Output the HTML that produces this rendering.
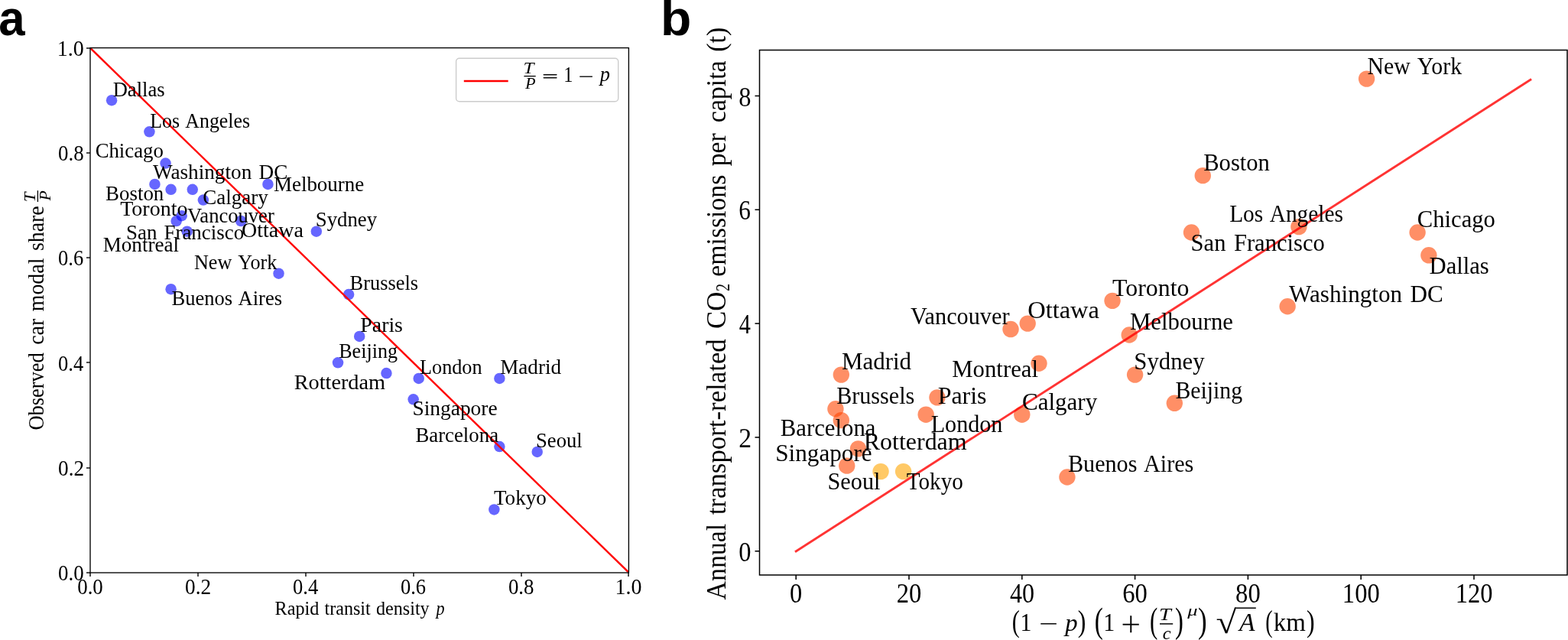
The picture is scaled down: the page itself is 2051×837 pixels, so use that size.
<!DOCTYPE html>
<html lang="en"><head><meta charset="utf-8"><title>Figure</title>
<style>html,body{margin:0;padding:0;background:#fff;overflow:hidden}svg{display:block}text{white-space:pre}</style>
</head><body>
<svg width="2051" height="837" viewBox="0 0 2051 837">
<rect width="2051" height="837" fill="#fff"/>
<defs><clipPath id="ca"><rect x="117.90" y="62.55" width="704.60" height="686.25"/></clipPath><clipPath id="cb"><rect x="993.60" y="65.50" width="1056.60" height="686.40"/></clipPath></defs>
<g id="panel-a">
<g fill="#00f" fill-opacity="0.6">
<circle cx="146.08" cy="131.17" r="7.25"/>
<circle cx="195.41" cy="172.35" r="7.25"/>
<circle cx="216.54" cy="213.52" r="7.25"/>
<circle cx="202.45" cy="240.97" r="7.25"/>
<circle cx="223.59" cy="247.84" r="7.25"/>
<circle cx="251.77" cy="247.84" r="7.25"/>
<circle cx="265.87" cy="261.56" r="7.25"/>
<circle cx="350.42" cy="240.97" r="7.25"/>
<circle cx="237.68" cy="282.15" r="7.25"/>
<circle cx="230.64" cy="289.01" r="7.25"/>
<circle cx="315.19" cy="289.01" r="7.25"/>
<circle cx="244.73" cy="302.74" r="7.25"/>
<circle cx="413.83" cy="302.74" r="7.25"/>
<circle cx="364.51" cy="357.64" r="7.25"/>
<circle cx="223.59" cy="378.22" r="7.25"/>
<circle cx="456.11" cy="385.09" r="7.25"/>
<circle cx="470.20" cy="439.99" r="7.25"/>
<circle cx="442.02" cy="474.30" r="7.25"/>
<circle cx="505.43" cy="488.02" r="7.25"/>
<circle cx="547.71" cy="494.89" r="7.25"/>
<circle cx="653.40" cy="494.89" r="7.25"/>
<circle cx="540.66" cy="522.34" r="7.25"/>
<circle cx="653.40" cy="584.10" r="7.25"/>
<circle cx="702.72" cy="590.96" r="7.25"/>
<circle cx="646.35" cy="666.45" r="7.25"/>
</g>
<line x1="117.90" y1="62.55" x2="822.50" y2="748.80" stroke="#f00" stroke-width="2.4" clip-path="url(#ca)"/>
<g stroke="#000" stroke-width="1.4">
<line x1="118.00" y1="749.00" x2="118.00" y2="754.00"/>
<line x1="113.00" y1="749.00" x2="118.00" y2="749.00"/>
<line x1="259.00" y1="749.00" x2="259.00" y2="754.00"/>
<line x1="113.00" y1="612.00" x2="118.00" y2="612.00"/>
<line x1="400.00" y1="749.00" x2="400.00" y2="754.00"/>
<line x1="113.00" y1="474.00" x2="118.00" y2="474.00"/>
<line x1="541.00" y1="749.00" x2="541.00" y2="754.00"/>
<line x1="113.00" y1="337.00" x2="118.00" y2="337.00"/>
<line x1="682.00" y1="749.00" x2="682.00" y2="754.00"/>
<line x1="113.00" y1="200.00" x2="118.00" y2="200.00"/>
<line x1="822.00" y1="749.00" x2="822.00" y2="754.00"/>
<line x1="113.00" y1="63.00" x2="118.00" y2="63.00"/>
</g>
<rect x="118.00" y="62.60" width="704.40" height="686.40" fill="none" stroke="#000" stroke-width="1.35"/>
<rect x="596.6" y="76.2" width="212.1" height="56.6" rx="4.2" fill="#fff" fill-opacity="0.8" stroke="#ccc" stroke-width="1.4"/>
<line x1="606.8" y1="106" x2="664.7" y2="106" stroke="#f00" stroke-width="2.4"/>
<line x1="685.4" y1="99.6" x2="700.7" y2="99.6" stroke="#000" stroke-width="1.3"/>
<line x1="49.4" y1="264.0" x2="49.4" y2="249.2" stroke="#000" stroke-width="1.3"/>
</g>
<g id="panel-b">
<circle cx="1787.59" cy="103.11" r="10.7" fill="#ff4500" fill-opacity="0.6"/>
<circle cx="1573.28" cy="229.63" r="10.7" fill="#ff4500" fill-opacity="0.6"/>
<circle cx="1698.91" cy="296.61" r="10.7" fill="#ff4500" fill-opacity="0.6"/>
<circle cx="1558.50" cy="304.05" r="10.7" fill="#ff4500" fill-opacity="0.6"/>
<circle cx="1854.10" cy="304.05" r="10.7" fill="#ff4500" fill-opacity="0.6"/>
<circle cx="1868.88" cy="333.82" r="10.7" fill="#ff4500" fill-opacity="0.6"/>
<circle cx="1684.13" cy="400.79" r="10.7" fill="#ff4500" fill-opacity="0.6"/>
<circle cx="1455.04" cy="393.35" r="10.7" fill="#ff4500" fill-opacity="0.6"/>
<circle cx="1344.19" cy="423.12" r="10.7" fill="#ff4500" fill-opacity="0.6"/>
<circle cx="1322.02" cy="430.56" r="10.7" fill="#ff4500" fill-opacity="0.6"/>
<circle cx="1477.21" cy="438.00" r="10.7" fill="#ff4500" fill-opacity="0.6"/>
<circle cx="1358.97" cy="475.21" r="10.7" fill="#ff4500" fill-opacity="0.6"/>
<circle cx="1484.60" cy="490.10" r="10.7" fill="#ff4500" fill-opacity="0.6"/>
<circle cx="1100.32" cy="490.10" r="10.7" fill="#ff4500" fill-opacity="0.6"/>
<circle cx="1225.95" cy="519.87" r="10.7" fill="#ff4500" fill-opacity="0.6"/>
<circle cx="1536.33" cy="527.31" r="10.7" fill="#ff4500" fill-opacity="0.6"/>
<circle cx="1092.93" cy="534.75" r="10.7" fill="#ff4500" fill-opacity="0.6"/>
<circle cx="1211.17" cy="542.19" r="10.7" fill="#ff4500" fill-opacity="0.6"/>
<circle cx="1336.80" cy="542.19" r="10.7" fill="#ff4500" fill-opacity="0.6"/>
<circle cx="1100.32" cy="549.63" r="10.7" fill="#ff4500" fill-opacity="0.6"/>
<circle cx="1122.49" cy="586.84" r="10.7" fill="#ff4500" fill-opacity="0.6"/>
<circle cx="1107.71" cy="609.17" r="10.7" fill="#ff4500" fill-opacity="0.6"/>
<circle cx="1152.05" cy="616.61" r="10.7" fill="#ffa500" fill-opacity="0.6"/>
<circle cx="1181.61" cy="616.61" r="10.7" fill="#ffa500" fill-opacity="0.6"/>
<circle cx="1395.92" cy="624.05" r="10.7" fill="#ff4500" fill-opacity="0.6"/>
<line x1="1041.20" y1="721.00" x2="2001.90" y2="104.28" stroke="#f00" stroke-opacity="0.8" stroke-width="2.9" stroke-linecap="square"/>
<g stroke="#000" stroke-width="1.55">
<line x1="1041.20" y1="752.00" x2="1041.20" y2="758.00"/>
<line x1="1189.00" y1="752.00" x2="1189.00" y2="758.00"/>
<line x1="1336.80" y1="752.00" x2="1336.80" y2="758.00"/>
<line x1="1484.60" y1="752.00" x2="1484.60" y2="758.00"/>
<line x1="1632.40" y1="752.00" x2="1632.40" y2="758.00"/>
<line x1="1780.20" y1="752.00" x2="1780.20" y2="758.00"/>
<line x1="1928.00" y1="752.00" x2="1928.00" y2="758.00"/>
<line x1="987.50" y1="720.80" x2="993.50" y2="720.80"/>
<line x1="987.50" y1="571.96" x2="993.50" y2="571.96"/>
<line x1="987.50" y1="423.12" x2="993.50" y2="423.12"/>
<line x1="987.50" y1="274.28" x2="993.50" y2="274.28"/>
<line x1="987.50" y1="125.44" x2="993.50" y2="125.44"/>
</g>
<rect x="993.50" y="65.50" width="1056.50" height="686.50" fill="none" stroke="#000" stroke-width="1.5"/>
<line x1="1517.0" y1="815.9" x2="1534.2" y2="815.9" stroke="#000" stroke-width="1.5"/>
<line x1="1617.0" y1="795.2" x2="1642.8" y2="795.2" stroke="#000" stroke-width="1.5"/>
</g>
<g id="text" fill="#000">
<g font-family="'Liberation Serif', serif" font-size="28.1">
<text transform="translate(147.68 125.80) scale(0.9460 1.0000)">Dallas</text>
<text transform="translate(196.20 166.70) scale(0.9199 1.0000)" word-spacing="2.53">Los Angeles</text>
<text transform="translate(124.66 206.00) scale(0.9523 1.0000)">Chicago</text>
<text transform="translate(199.90 234.10) scale(0.9688 1.0000)" word-spacing="2.53">Washington DC</text>
<text transform="translate(357.98 249.70) scale(0.9596 1.0000)">Melbourne</text>
<text transform="translate(138.08 262.20) scale(0.9571 1.0000)">Boston</text>
<text transform="translate(265.36 267.30) scale(0.9617 1.0000)">Calgary</text>
<text transform="translate(157.16 282.10) scale(0.9971 1.0000)">Toronto</text>
<text transform="translate(245.10 291.20) scale(0.9465 1.0000)">Vancouver</text>
<text transform="translate(412.72 296.10) scale(0.9546 1.0000)">Sydney</text>
<text transform="translate(165.02 312.70) scale(0.9576 1.0000)" word-spacing="2.53">San Francisco</text>
<text transform="translate(315.92 309.80) scale(0.9977 1.0000)">Ottawa</text>
<text transform="translate(134.68 328.90) scale(0.9656 1.0000)">Montreal</text>
<text transform="translate(253.99 351.60) scale(0.9307 1.0000)" word-spacing="2.53">New York</text>
<text transform="translate(224.49 399.40) scale(0.9437 1.0000)" word-spacing="2.53">Buenos Aires</text>
<text transform="translate(457.59 378.90) scale(0.9387 1.0000)">Brussels</text>
<text transform="translate(471.37 433.90) scale(0.9886 1.0000)">Paris</text>
<text transform="translate(443.19 468.10) scale(0.9284 1.0000)">Beijing</text>
<text transform="translate(549.09 488.60) scale(0.9324 1.0000)">London</text>
<text transform="translate(654.18 488.60) scale(0.9650 1.0000)">Madrid</text>
<text transform="translate(384.66 509.40) scale(1.0074 1.0000)">Rotterdam</text>
<text transform="translate(539.38 543.20) scale(0.9770 1.0000)">Singapore</text>
<text transform="translate(543.38 578.30) scale(0.9543 1.0000)">Barcelona</text>
<text transform="translate(701.04 585.00) scale(0.9466 1.0000)">Seoul</text>
<text transform="translate(645.98 660.20) scale(0.9631 1.0000)">Tokyo</text>
</g>
<g font-family="'Liberation Serif', serif" font-size="31.1">
<text transform="translate(1788.43 96.70) scale(0.9598 1.0000)" word-spacing="2.8">New York</text>
<text transform="translate(1574.22 223.20) scale(0.9834 1.0000)">Boston</text>
<text transform="translate(1608.14 289.90) scale(0.9460 1.0000)" word-spacing="2.8">Los Angeles</text>
<text transform="translate(1557.59 328.00) scale(0.9845 1.0000)" word-spacing="2.8">San Francisco</text>
<text transform="translate(1853.84 297.40) scale(0.9843 1.0000)">Chicago</text>
<text transform="translate(1869.52 357.80) scale(0.9854 1.0000)">Dallas</text>
<text transform="translate(1686.10 394.50) scale(1.0011 1.0000)" word-spacing="2.8">Washington DC</text>
<text transform="translate(1455.00 386.70) scale(1.0252 1.0000)">Toronto</text>
<text transform="translate(1344.18 416.40) scale(1.0447 1.0000)">Ottawa</text>
<text transform="translate(1191.10 423.80) scale(0.9734 1.0000)">Vancouver</text>
<text transform="translate(1477.92 431.20) scale(0.9897 1.0000)">Melbourne</text>
<text transform="translate(1245.22 492.90) scale(0.9900 1.0000)">Montreal</text>
<text transform="translate(1483.28 482.90) scale(0.9895 1.0000)">Sydney</text>
<text transform="translate(1100.92 483.40) scale(0.9960 1.0000)">Madrid</text>
<text transform="translate(1226.70 527.70) scale(1.0265 1.0000)">Paris</text>
<text transform="translate(1537.43 520.50) scale(0.9581 1.0000)">Beijing</text>
<text transform="translate(1094.13 527.70) scale(0.9693 1.0000)">Brussels</text>
<text transform="translate(1217.63 564.70) scale(0.9703 1.0000)">London</text>
<text transform="translate(1337.03 535.70) scale(0.9972 1.0000)">Calgary</text>
<text transform="translate(1020.72 570.40) scale(0.9899 1.0000)">Barcelona</text>
<text transform="translate(1129.80 587.70) scale(1.0275 1.0000)">Rotterdam</text>
<text transform="translate(1014.25 603.30) scale(1.0026 1.0000)">Singapore</text>
<text transform="translate(1082.51 640.40) scale(0.9735 1.0000)">Seoul</text>
<text transform="translate(1185.74 640.40) scale(0.9385 1.0000)">Tokyo</text>
<text transform="translate(1396.93 617.30) scale(0.9704 1.0000)" word-spacing="2.8">Buenos Aires</text>
</g>
<g font-family="'Liberation Serif', serif" font-size="28.8">
<text transform="translate(101.21 777.20) scale(0.9327 1.0000)">0.0</text>
<text transform="translate(76.06 759.10) scale(0.9327 1.0000)">0.0</text>
<text transform="translate(242.12 777.20) scale(0.9452 1.0000)">0.2</text>
<text transform="translate(76.05 621.85) scale(0.9452 1.0000)">0.2</text>
<text transform="translate(383.06 777.20) scale(0.9206 1.0000)">0.4</text>
<text transform="translate(76.07 484.60) scale(0.9206 1.0000)">0.4</text>
<text transform="translate(523.98 777.20) scale(0.9206 1.0000)">0.6</text>
<text transform="translate(76.07 347.35) scale(0.9206 1.0000)">0.6</text>
<text transform="translate(664.89 777.20) scale(0.9327 1.0000)">0.8</text>
<text transform="translate(76.06 210.10) scale(0.9327 1.0000)">0.8</text>
<text transform="translate(804.47 777.20) scale(0.9711 1.0000)">1.0</text>
<text transform="translate(74.72 72.85) scale(0.9711 1.0000)">1.0</text>
</g>
<g font-family="'Liberation Serif', serif" font-size="35.2">
<text transform="translate(1033.09 787.90) scale(0.9221 1.0000)">0</text>
<text transform="translate(1172.68 787.90) scale(0.9273 1.0000)">20</text>
<text transform="translate(1321.00 787.90) scale(0.9121 1.0000)">40</text>
<text transform="translate(1468.28 787.90) scale(0.9273 1.0000)">60</text>
<text transform="translate(1616.08 787.90) scale(0.9273 1.0000)">80</text>
<text transform="translate(1755.86 787.90) scale(0.9254 1.0000)">100</text>
<text transform="translate(1903.66 787.90) scale(0.9254 1.0000)">120</text>
<text transform="translate(966.29 734.00) scale(0.9221 1.0000)">0</text>
<text transform="translate(966.25 585.16) scale(0.9562 1.0000)">2</text>
<text transform="translate(966.83 436.32) scale(0.8606 1.0000)">4</text>
<text transform="translate(966.32 287.48) scale(0.8903 1.0000)">6</text>
<text transform="translate(966.29 138.64) scale(0.9221 1.0000)">8</text>
</g>
<g font-family="'Liberation Sans', sans-serif" font-size="64" font-weight="bold">
<text transform="translate(-1.77 46.00) scale(0.9657 1.0000)">a</text>
<text transform="translate(863.88 46.00) scale(1.0303 1.0000)">b</text>
</g>
<g font-family="'Liberation Serif', serif" font-size="25.4">
<text transform="translate(359.62 804.10) scale(0.9508 1.0000)" word-spacing="1.2">Rapid transit density</text>
</g>
<g font-family="'Liberation Serif', serif" font-size="25.4" font-style="italic">
<text transform="translate(570.58 804.10) scale(0.8711 1.0000)">p</text>
</g>
<g font-family="'Liberation Serif', serif" font-size="20.2" font-style="italic">
<text transform="translate(684.53 96.00) scale(1.2409 1.0000)">T</text>
<text transform="translate(686.95 116.00) scale(1.1048 1.0000)">P</text>
</g>
<g font-family="'DejaVu Sans Light', 'DejaVu Sans', sans-serif" font-size="28.6">
<text transform="translate(708.01 108.08) scale(0.9661 0.9431)" stroke="#000" stroke-width="0.3">=</text>
<text transform="translate(755.77 108.64) scale(0.9060 1.0000)" stroke="#000" stroke-width="0.3">−</text>
</g>
<g font-family="'Liberation Serif', serif" font-size="28.6">
<text transform="translate(737.20 107.00) scale(0.8485 1.0000)">1</text>
</g>
<g font-family="'Liberation Serif', serif" font-size="27.4" font-style="italic">
<text transform="translate(784.65 106.40) scale(0.9610 1.0000)">p</text>
</g>
<g font-family="'Liberation Serif', serif" font-size="28.6">
<text transform="translate(56.80 562.53) rotate(-90) scale(0.9236 1.0000)">Observed</text>
<text transform="translate(56.80 450.77) rotate(-90) scale(0.9753 1.0000)" word-spacing="2.57">car modal share</text>
</g>
<g font-family="'Liberation Serif', serif" font-size="20.2" font-style="italic">
<text transform="translate(45.60 264.33) rotate(-90) scale(1.1353 1.0000)">T</text>
<text transform="translate(65.70 262.56) rotate(-90) scale(1.0724 1.0000)">P</text>
</g>
<g font-family="'Liberation Serif', serif" font-size="35">
<text transform="translate(948.70 784.40) rotate(-90) scale(0.9658 1.0000)">Annual</text>
<text transform="translate(948.70 673.30) rotate(-90) scale(0.9949 1.0000)">transport-related</text>
<text transform="translate(948.70 429.99) rotate(-90) scale(0.9932 1.0000)">CO</text>
<text transform="translate(948.70 361.85) rotate(-90) scale(0.9644 1.0000)" word-spacing="3.15">emissions per</text>
<text transform="translate(948.70 160.36) rotate(-90) scale(0.9696 1.0000)" word-spacing="3.15">capita (t)</text>
</g>
<g font-family="'Liberation Serif', serif" font-size="25">
<text transform="translate(954.20 380.94) rotate(-90) scale(0.8154 1.0000)">2</text>
</g>
<g font-family="'Liberation Serif', serif" font-size="32.6">
<text transform="translate(1323.76 825.61) scale(0.9271 1.2045)">(</text>
<text transform="translate(1409.70 825.61) scale(0.9816 1.2045)">)</text>
<text transform="translate(1431.67 827.03) scale(1.0143 1.3975)">(</text>
<text transform="translate(1503.93 827.03) scale(0.9489 1.3975)">(</text>
<text transform="translate(1536.98 827.03) scale(1.0047 1.3975)">)</text>
<text transform="translate(1567.11 827.03) scale(1.0740 1.3975)">)</text>
<text transform="translate(1590.54 828.33) scale(1.4976 1.3063)">√</text>
<text transform="translate(1655.22 825.61) scale(0.8616 1.2045)">(</text>
<text transform="translate(1709.00 825.61) scale(0.9816 1.2045)">)</text>
</g>
<g font-family="'Liberation Serif', serif" font-size="34.2">
<text transform="translate(1334.47 825.00) scale(0.8733 1.0000)">1</text>
<text transform="translate(1443.15 825.00) scale(0.8811 1.0000)">1</text>
</g>
<g font-family="'DejaVu Sans Light', 'DejaVu Sans', sans-serif" font-size="32.6">
<text transform="translate(1357.97 826.09) scale(0.9912 1.0000)" stroke="#000" stroke-width="0.3">−</text>
<text transform="translate(1465.17 826.80) scale(1.0247 1.0343)" stroke="#000" stroke-width="0.3">+</text>
</g>
<g font-family="'Liberation Serif', serif" font-size="31.6" font-style="italic">
<text transform="translate(1393.35 825.00) scale(1.0358 1.0000)">p</text>
</g>
<g font-family="'Liberation Serif', serif" font-size="24" font-style="italic">
<text transform="translate(1516.12 811.00) scale(1.1852 1.0000)">T</text>
<text transform="translate(1520.72 836.00) scale(1.0173 1.0000)">c</text>
</g>
<g font-family="'Liberation Serif', serif" font-size="21" font-style="italic">
<text transform="translate(1553.31 804.76) scale(1.2584 0.9004)">μ</text>
</g>
<g font-family="'Liberation Serif', serif" font-size="34.6" font-style="italic">
<text transform="translate(1621.00 825.00) scale(0.9711 1.0000)">A</text>
</g>
<g font-family="'Liberation Serif', serif" font-size="33.4">
<text transform="translate(1665.78 825.00) scale(0.9868 1.0000)">km</text>
</g>
</g>
</svg>
</body></html>
